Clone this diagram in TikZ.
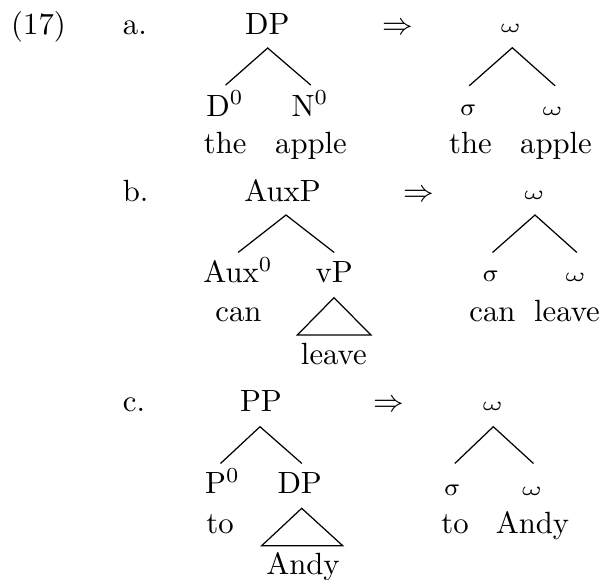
\documentclass[tikz,border=0pt]{standalone}
\usepackage{graphicx}
\newcommand\gom{\scalebox{1}[0.62]{$\omega$}}
\newcommand\gsig{\scalebox{1}[0.88]{\fontsize{8.6}{9}\selectfont$\sigma$}}
\begin{document}
\begin{tikzpicture}[x=0.3257pt,y=-0.3257pt,
  lbl/.style={inner sep=0pt,anchor=base},
  lblw/.style={inner sep=0pt,anchor=base west},
  br/.style={line width=0.4pt,line cap=round}]
\newcommand\gk[4]{\begin{scope}[shift={(#2,#3)},xslant=-0.25]\node[lbl,transform shape] (#1) at (0,0) {#4};\end{scope}}
\useasboundingbox (0,0) rectangle (613,579);
% ---------- row a ----------
\node[lbl] (ex) at (38.5,34.3) {(17)};
\node[lblw] (la) at (122.3,34.3) {a.};
\node[lbl] (aDP) at (267.3,34.3) {DP};
\node[lbl] (aD) at (225,116) {D$^0$};
\node[lbl] (aN) at (310,116) {N$^0$};
\node[lbl] (aw1) at (225.3,153.3) {the};
\node[lbl] (aw2) at (311,153.3) {apple};
\coordinate (aT) at (267.7,48);
\coordinate (aL) at (225.7,85);
\coordinate (aR) at (310.7,85);
\draw[br] (aL) -- (aT) -- (aR);
\node[lbl] (aArr) at (397.5,34.3) {$\Rightarrow$};
\gk{aO}{512}{32.7}{\gom}
\gk{aS}{470}{115}{\gsig}
\gk{aO2}{553.7}{115}{\gom}
\node[lbl] (ap1) at (470.5,153.3) {the};
\node[lbl] (ap2) at (556,153.3) {apple};
\coordinate (apT) at (512.3,47.7);
\coordinate (apL) at (469.3,85.7);
\coordinate (apR) at (555,85.7);
\draw[br] (apL) -- (apT) -- (apR);
% ---------- row b ----------
\node[lblw] (lb) at (122.3,201.7) {b.};
\node[lbl] (bAuxP) at (282.5,201.7) {AuxP};
\node[lbl] (bAux) at (238,282.7) {Aux$^0$};
\node[lbl] (bvP) at (334.2,282.7) {vP};
\node[lbl] (bw1) at (238.5,321.7) {can};
\node[lbl] (bw2) at (333.8,364.5) {leave};
\coordinate (bT) at (286,215);
\coordinate (bL) at (238.3,252.3);
\coordinate (bR) at (334,252.3);
\draw[br] (bL) -- (bT) -- (bR);
\coordinate (btA) at (334,297.7);
\coordinate (btL) at (297.3,335);
\coordinate (btR) at (371,335);
\draw[br,line join=miter] (btA) -- (btL) -- (btR) -- cycle;
\node[lbl] (bArr) at (418.5,201) {$\Rightarrow$};
\gk{bO}{535.5}{199}{\gom}
\gk{bS}{492.5}{281}{\gsig}
\gk{bO2}{576.7}{281}{\gom}
\node[lbl] (bp1) at (492.5,321.7) {can};
\node[lbl] (bp2) at (567,321.7) {leave};
\coordinate (bpT) at (535,215);
\coordinate (bpL) at (492.7,252.3);
\coordinate (bpR) at (576.7,252.3);
\draw[br] (bpL) -- (bpT) -- (bpR);
% ---------- row c ----------
\node[lblw] (lc) at (122.3,411.7) {c.};
\node[lbl] (cPP) at (261,411.7) {PP};
\node[lbl] (cP) at (222.5,493.3) {P$^0$};
\node[lbl] (cDP) at (299.7,493.3) {DP};
\node[lbl] (cw1) at (220,533.3) {to};
\node[lbl] (cw2) at (303,574.3) {Andy};
\coordinate (cT) at (260,426.7);
\coordinate (cL) at (220.7,463.3);
\coordinate (cR) at (301.7,463.3);
\draw[br] (cL) -- (cT) -- (cR);
\coordinate (ctA) at (301.7,508.3);
\coordinate (ctL) at (261.7,545.7);
\coordinate (ctR) at (342.7,545.7);
\draw[br,line join=miter] (ctA) -- (ctL) -- (ctR) -- cycle;
\node[lbl] (cArr) at (389,411) {$\Rightarrow$};
\gk{cO}{494}{410}{\gom}
\gk{cS}{454}{495}{\gsig}
\gk{cO2}{533.3}{495}{\gom}
\node[lbl] (cp1) at (455,533.3) {to};
\node[lbl] (cp2) at (532.5,533.3) {Andy};
\coordinate (cpT) at (493.3,426.7);
\coordinate (cpL) at (455,463.3);
\coordinate (cpR) at (533.3,463.3);
\draw[br] (cpL) -- (cpT) -- (cpR);
\end{tikzpicture}
\end{document}
